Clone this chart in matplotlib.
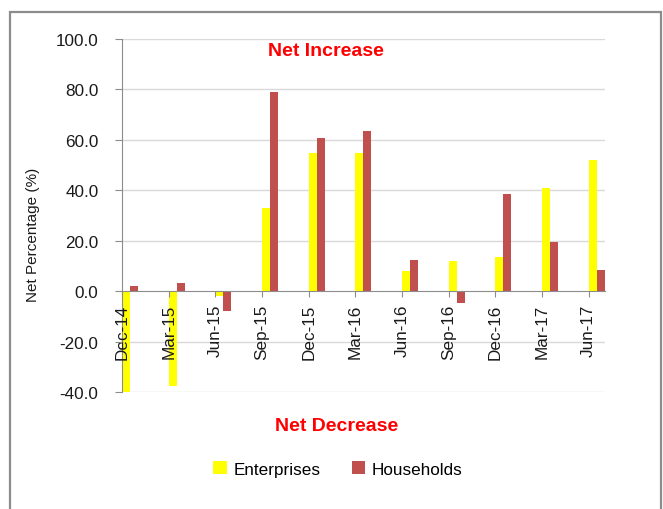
import matplotlib
matplotlib.use("Agg")
import matplotlib.pyplot as plt
import numpy as np
from matplotlib.patches import Rectangle, Patch

categories = ["Dec-14", "Mar-15", "Jun-15", "Sep-15", "Dec-15", "Mar-16",
              "Jun-16", "Sep-16", "Dec-16", "Mar-17", "Jun-17"]
enterprises = [-40.5, -37.7, -1.8, 32.9, 54.6, 54.6, 7.9, 11.9, 13.4, 40.9, 52.2]
households = [2.2, 3.2, -7.9, 79.0, 60.7, 63.4, 12.3, -4.8, 38.4, 19.4, 8.3]
yticks = [-40, -20, 0, 20, 40, 60, 80, 100]

plt.rcParams['font.family'] = ['Liberation Sans', 'DejaVu Sans']

W, H = 663, 510
fig = plt.figure(figsize=(W / 100, H / 100), dpi=100)

# outer border
fig.patches.append(Rectangle((10 / W, -0.05), (661 - 10) / W, 1 - 13 / H + 0.05,
                             transform=fig.transFigure, fill=False,
                             edgecolor='#8C8C8C', linewidth=1.6))

ax = fig.add_axes([122 / W, 1 - 393 / H, (605 - 122) / W, (393 - 40) / H])

for s in ['top', 'right']:
    ax.spines[s].set_visible(False)
ax.spines['bottom'].set_position(('data', 0))
ax.spines['bottom'].set_color('#8C8C8C')
ax.spines['left'].set_color('#8C8C8C')

x = np.arange(len(categories))
w = 0.17
ax.bar(x, enterprises, width=w, align='edge', color='#FFFF00', label='Enterprises', zorder=2)
ax.bar(x + w, households, width=w, align='edge', color='#C0504D', label='Households', zorder=2)

for v in yticks:
    if v != 0:
        ax.axhline(v, color='#D9D9D9', linewidth=1.0, zorder=1)

ax.set_xlim(0, len(categories) - 1 + 2 * w + 0.01)
ax.set_ylim(-40, 100)
ax.set_yticks(yticks)
ax.set_yticklabels([f"{v:.1f}" for v in yticks], fontsize=12.3, color='#1a1a1a')
ax.set_xticks(x)
ax.set_xticklabels(categories, fontsize=12.3, color='#1a1a1a')
plt.setp(ax.get_xticklabels(), rotation=90, va='top', ha='center')
ax.set_axisbelow(False)

ax.tick_params(axis='y', direction='out', length=5, color='#8C8C8C', pad=12)
ax.tick_params(axis='x', direction='out', length=4, color='#8C8C8C', pad=5)

ax.set_ylabel("Net Percentage (%)", fontsize=11, color='#1a1a1a', labelpad=6)
ax.yaxis.set_label_coords(-(122 - 40) / (605 - 122), (393 - 235) / (393 - 40))

fig.text(326 / W, 1 - 52 / H, "Net Increase", color='#FF0000', fontsize=14,
         fontweight='bold', ha='center', va='center')
fig.text(337 / W, 1 - 427 / H, "Net Decrease", color='#FF0000', fontsize=14,
         fontweight='bold', ha='center', va='center')

handles = [Patch(facecolor='#FFFF00'), Patch(facecolor='#C0504D')]
fig.legend(handles, ['Enterprises', 'Households'], loc='center',
           bbox_to_anchor=(338 / W, 1 - 470 / H), ncol=2, frameon=False,
           fontsize=12.3, handlelength=0.8, handleheight=0.8, handletextpad=0.4,
           columnspacing=1.8)

fig.savefig("out.png", dpi=100)
